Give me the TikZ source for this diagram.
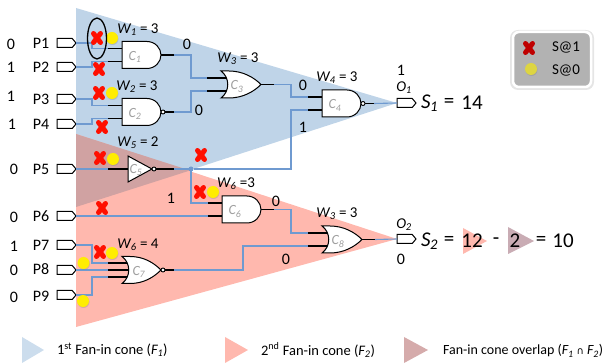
\documentclass[tikz,border=0pt]{standalone}
\usepackage{fontspec}
\setmainfont{Carlito}
\newfontfamily\symfont{DejaVu Sans}
\usetikzlibrary{shapes.misc,shapes.symbols,shapes.geometric,shadows}
\definecolor{coneB}{HTML}{BFD4E8}
\definecolor{coneR}{HTML}{FFB8AE}
\definecolor{coneO}{HTML}{D0A2A2}
\definecolor{coneM}{HTML}{C9ACB4}
\definecolor{wireB}{HTML}{6F9AD0}
\newcommand{\iv}[2]{\textit{#1}\textsubscript{\kern-.5pt\textit{#2}}}
\newcommand{\fs}[1]{\fontsize{#1}{#1}\selectfont}
\tikzset{
  x=1pt,y=-1pt,
  every node/.style={inner sep=0pt,outer sep=0pt,text=black},
  wire/.style={draw=wireB,line width=1.1pt},
  stub/.style={draw=black,line width=1.5pt},
  body/.style={draw=black,line width=1pt,fill=white},
  port/.style={shape=signal,signal to=east,signal pointer angle=100,draw=black,line width=1pt,fill=white,minimum width=19pt,minimum height=9pt},
  xmk/.style={shape=cross out,draw=#1,line width=5pt,minimum width=7pt,minimum height=9pt,line cap=round},
  xmk/.default={red!88!orange},
  ydot/.style={circle,fill=#1,minimum size=12pt,draw=none,drop shadow={shadow xshift=.5pt,shadow yshift=-1pt,opacity=.3}},
  ydot/.default={yellow!95!orange},
  lab/.style={font=\fs{16}},
  wlab/.style={font=\fs{15}},
  bigt/.style={font=\fs{21}},
  glab/.style={font=\fs{14},text=gray!75},
  pics/andg/.style={code={
    \draw[stub] (-14,-6.5) -- (5,-6.5) (-14,6.5) -- (5,6.5) (39,0) -- (52,0);
    \draw[body] (0,-13.5) -- (25,-13.5) .. controls (33,-13.5) and (39,-7) .. (39,0) .. controls (39,7) and (33,13.5) .. (25,13.5) -- (0,13.5) -- cycle;
    \coordinate (-a) at (-14,-6.5); \coordinate (-b) at (-14,6.5); \coordinate (-o) at (52,0);
    \node[glab] (-l) at (13,2) {#1};
  }},
  pics/nandg/.style={code={
    \draw[stub] (-14,-6.5) -- (5,-6.5) (-14,6.5) -- (5,6.5) (42,0) -- (52,0);
    \draw[body] (0,-13.5) -- (25,-13.5) .. controls (33,-13.5) and (39,-7) .. (39,0) .. controls (39,7) and (33,13.5) .. (25,13.5) -- (0,13.5) -- cycle;
    \draw[body,line width=.9pt] (41,0) circle[radius=2];
    \coordinate (-a) at (-14,-6.5); \coordinate (-b) at (-14,6.5); \coordinate (-o) at (52,0);
    \node[glab] (-l) at (13,2) {#1};
  }},
  pics/org/.style={code={
    \draw[stub] (-14,-6.5) -- (8,-6.5) (-14,6.5) -- (8,6.5) (40,0) -- (53,0);
    \draw[body] (0,-13.5) -- (8,-13.5) .. controls (22,-13.5) and (33,-7) .. (40,0) .. controls (33,7) and (22,13.5) .. (8,13.5) -- (0,13.5) .. controls (9,7) and (9,-7) .. (0,-13.5) -- cycle;
    \coordinate (-a) at (-14,-6.5); \coordinate (-b) at (-14,6.5); \coordinate (-o) at (53,0);
    \node[glab] (-l) at (16,2) {#1};
  }},
  pics/norg/.style={code={
    \draw[stub] (-14,-7) -- (8,-7) (-14,0) -- (10,0) (-14,7) -- (8,7) (42,0) -- (52,0);
    \draw[body] (0,-13.5) -- (8,-13.5) .. controls (22,-13.5) and (32,-7) .. (39,0) .. controls (32,7) and (22,13.5) .. (8,13.5) -- (0,13.5) .. controls (9,7) and (9,-7) .. (0,-13.5) -- cycle;
    \draw[body,line width=.9pt] (41,0) circle[radius=2];
    \coordinate (-a) at (-14,-7); \coordinate (-m) at (-14,0); \coordinate (-b) at (-14,7); \coordinate (-o) at (52,0);
    \node[glab] (-l) at (17,2) {#1};
  }},
  pics/invg/.style={code={
    \draw[stub] (-20,0) -- (3,0) (28,0) -- (46,0);
    \draw[body] (0,-13) -- (24,0) -- (0,13) -- cycle;
    \draw[body,line width=.9pt] (26,0) circle[radius=2];
    \coordinate (-a) at (-20,0); \coordinate (-o) at (46,0);
    \node[glab] (-l) at (8,1) {#1};
  }},
}
\begin{document}
\begin{tikzpicture}
\useasboundingbox (0,0) rectangle (616,363);
% cones
\fill[coneB] (76,8) -- (397,103) -- (76,207) -- cycle;
\fill[coneR] (76,134) -- (397,239) -- (76,327) -- cycle;
\fill[coneO] (76,134) -- (190,170.5) -- (76,207) -- cycle;
% ports
\foreach \n/\y in {p1/43,p2/67,p3/99,p4/124,p5/169,p6/216,p7/245,p8/270,p9/295}
  \node[port,anchor=east] (\n) at (76,\y) {};
\node[port,anchor=west] (o1) at (397,103) {};
\node[port,anchor=west] (o2) at (397,239) {};
% wire junction
\node[circle,fill=wireB,minimum size=5pt] (j) at (191,169) {};
% gates
\pic (c1) at (122,55) {andg={\iv{C}{1}}};
\pic (c2) at (122,112) {nandg={\iv{C}{2}}};
\pic (c3) at (221,84.5) {org={\iv{C}{3}}};
\pic (c4) at (322,103.5) {nandg={\iv{C}{4}}};
\pic (c5) at (128,169) {invg={\iv{C}{5}}};
\pic (c6) at (222,209.5) {andg={\iv{C}{6}}};
\pic (c7) at (122,270) {norg={\iv{C}{7}}};
\pic (c8) at (322,239.5) {org={\iv{C}{8}}};
% wires
\draw[wire] (p1.east) -- ++(16,0) |- (c1-a);
\draw[wire] (p2.east) -- ++(16,0) |- (c1-b);
\draw[wire] (p3.east) -- ++(16,0) |- (c2-a);
\draw[wire] (p4.east) -- ++(16,0) |- (c2-b);
\draw[wire] (p5.east) -- (c5-a);
\draw[wire] (p6.east) -- (c6-b);
\draw[wire] (p7.east) -- ++(16,0) |- (c7-a);
\draw[wire] (p8.east) -- (c7-m);
\draw[wire] (p9.east) -- ++(16,0) |- (c7-b);
\draw[wire] (c1-o) -- ++(17,0) |- (c3-a);
\draw[wire] (c2-o) -- ++(17,0) |- (c3-b);
\draw[wire] (c3-o) -- ++(17,0) |- (c4-a);
\draw[wire] (c5-o) -- (j);
\draw[wire] (j) -- (291,169) |- (c4-b);
\draw[wire] (j) |- (c6-a);
\draw[wire] (c6-o) -- ++(17,0) |- (c8-a);
\draw[wire] (c7-o) -- ++(69,0) |- (c8-b);
\draw[wire] (c4-o) -- (o1.west);
\draw[wire] (c8-o) -- (o2.west);
% marks
\foreach \n/\x/\y in {ya/112/38,yb/112/93,yc/113/159,yd/213/192,ye/83.5/263,yf/112/253,yg/83/301}
  \node[ydot] (\n) at (\x,\y) {};
\foreach \n/\x/\y in {xa/97/38,xb/99/69,xc/99/93,xd/102/127,xe/100/158,xf/201/155,xg/200/192,xh/102/208,xi/100/252}
  \node[xmk] (\n) at (\x,\y) {};
\node[draw=black,line width=1.3pt,ellipse,minimum width=19pt,minimum height=41pt] (el) at (97,38.5) {};
% input values and port names
\foreach \n/\t/\x/\y in {v1/0/11/44,v2/1/11/67,v3/1/11/96,v4/1/12/124,v5/0/14/169,v6/0/14/217,v7/1/14/246,v8/0/14/270,v9/0/14/297,
  va/0/187/44,vb/0/199/110,vc/0/303/85,vd/1/303/127,ve/1/401/70,vf/1/171/198,vg/0/276/201,vh/0/286/259,vi/0/401/259,
  n1/P1/41/43,n2/P2/41/67,n3/P3/41/99,n4/P4/41/124,n5/P5/41/169,n6/P6/41/216,n7/P7/41/245,n8/P8/41/269,n9/P9/41/296}
  \node[lab] (\n) at (\x,\y) {\t};
% weights
\node[wlab] (w1) at (138,30) {\iv{W}{1} = 3};
\node[wlab] (w2) at (137,87) {\iv{W}{2} = 3};
\node[wlab] (w5) at (138,143) {\iv{W}{5} = 2};
\node[wlab] (w7) at (138,245) {\iv{W}{6} = 4};
\node[wlab] (w3) at (238,59) {\iv{W}{3} = 3};
\node[wlab] (w4) at (337,78) {\iv{W}{4} = 3};
\node[wlab] (w6) at (236,184) {\iv{W}{6} =3};
\node[wlab] (w8) at (337,214) {\iv{W}{3} = 3};
\node[font=\fs{15}] (o1n) at (404,88) {\iv{O}{1}};
\node[font=\fs{15}] (o2n) at (404,225) {\iv{O}{2}};
% sums
\fill[coneR] (463,228) -- (487,241) -- (463,254) -- cycle;
\fill[coneM] (508,227) -- (534,241) -- (508,254) -- cycle;
\node[bigt,anchor=west] (s1) at (421,103) {\iv{S}{1}};
\node[bigt] (s1e) at (449,103) {=};
\node[bigt] (s1v) at (472,103) {14};
\node[bigt,anchor=west] (s2) at (421,241) {\iv{S}{2}};
\node[bigt] (s2e) at (449,241) {=};
\node[bigt] (s3) at (472,241) {12};
\node[bigt] (s4) at (496,241) {-};
\node[bigt] (s5) at (515,241) {2};
\node[bigt] (s6) at (541,241) {=};
\node[bigt] (s7) at (563,241) {10};
% legend
\fill[gray!20,rounded corners=8pt] (510,30) rectangle (594,90);
\node[draw=white,line width=2.5pt,fill=gray!60,rounded corners=6pt,minimum width=78pt,minimum height=55pt] (lg) at (552,59.5) {};
\node[xmk=red!75!black] (lx) at (529,48) {};
\node[ydot=yellow!70!gray] (ly) at (531,69) {};
\node[font=\fs{15}] (l1) at (566,47) {S@1};
\node[font=\fs{15}] (l2) at (566,70) {S@0};
% bottom legend
\fill[coneB!80!white] (22,337) -- (44,350) -- (22,363) -- cycle;
\fill[coneR] (225,337) -- (248,350) -- (225,363) -- cycle;
\fill[coneO!90!white] (404,337) -- (428,350) -- (404,363) -- cycle;
\node[font=\fs{14.5},anchor=west] (t1) at (57,350) {1\textsuperscript{st} Fan-in cone (\iv{F}{1})};
\node[font=\fs{14.5},anchor=west] (t2) at (261,350) {2\textsuperscript{nd} Fan-in cone (\iv{F}{2})};
\node[font=\fs{14},anchor=west] (t3) at (443,351) {Fan-in cone overlap (\iv{F}{1} {\symfont\fs{10}∩} \iv{F}{2})};
\end{tikzpicture}
\end{document}
